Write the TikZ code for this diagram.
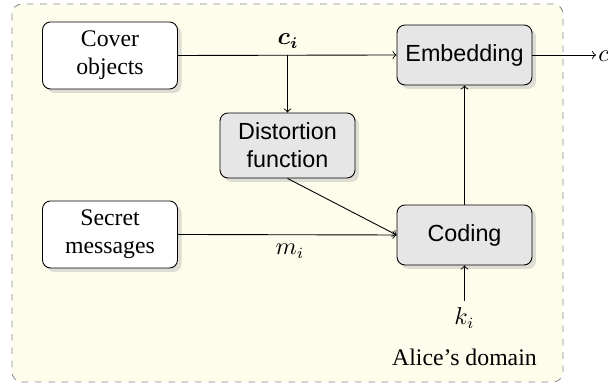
\documentclass[tikz,border=0pt]{standalone}
\usepackage{fontspec}
\setmainfont{Liberation Serif}
\newfontfamily\helv{Liberation Sans}
\usepackage{bm}
\usetikzlibrary{shadows}
\definecolor{domfill}{HTML}{FEFCEB}
\definecolor{boxgray}{HTML}{E6E6E6}
\begin{document}
\begin{tikzpicture}[x=0.45pt,y=-0.45pt,
  font=\fontsize{10.7}{12.6}\selectfont,
  base/.style={draw=black, rounded corners=3.6pt, thin, align=center,
    drop shadow={shadow xshift=1.8pt, shadow yshift=-1.8pt, fill=black!25}},
  inbox/.style={base, fill=white, minimum width=60.75pt, minimum height=30.15pt, inner sep=1pt},
  procbox/.style={base, fill=boxgray, minimum width=60.75pt, minimum height=27pt, inner sep=1pt, font=\helv\fontsize{10.5}{12.6}\selectfont},
  conn/.style={draw=black, thin, -to}]
\useasboundingbox (0,0) rectangle (608,389);
\draw[dashed, draw=black!45, fill=domfill, rounded corners=4.5pt] (12,4) rectangle (563,382);
\node[inbox] (cover) at (110,55.5) {Cover\\objects};
\node[inbox] (secret) at (110,234.5) {Secret\\messages};
\node[procbox] (embed) at (464.5,55) {Embedding};
\node[procbox, minimum height=29.25pt] (dist) at (287.5,145.5) {Distortion\\function};
\node[procbox] (coding) at (464.5,235) {Coding};
\coordinate (branch) at (cover.east -| dist.north);
\coordinate (out) at (596,55);
\coordinate (kin) at (464.5,301);
\node (ci) at (288,41) {$\bm{c_i}$};
\node (mi) at (290,251) {$m_i$};
\node (ki) at (464.5,318) {$k_i$};
\node (alice) at (464.5,357) {Alice's domain};
\node[anchor=west, inner sep=0pt] (cout) at (598,56) {$c_i'$};
\draw[conn] (cover.east) -- (embed.west);
\draw[conn] (branch) -- (dist.north);
\draw[conn] (secret.east) -- (coding.west);
\draw[conn] (dist.south) -- (coding.west);
\draw[conn] (coding.north) -- (embed.south);
\draw[conn] (kin) -- (coding.south);
\draw[conn] (embed.east) -- (out);
\end{tikzpicture}
\end{document}
